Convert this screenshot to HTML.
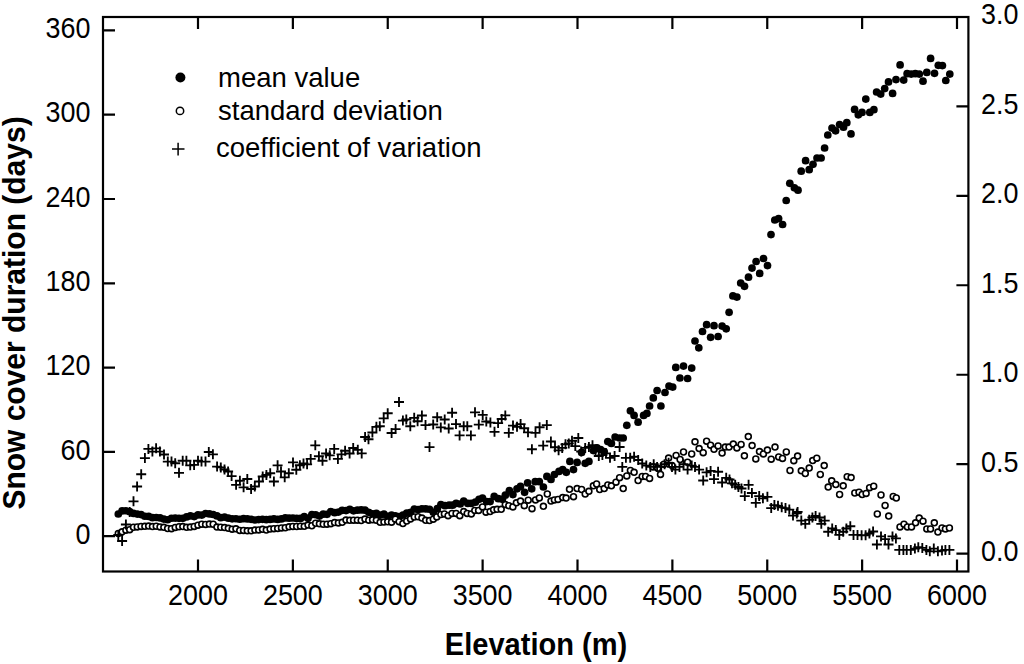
<!DOCTYPE html><html><head><meta charset="utf-8"><title>Snow cover duration vs elevation</title><style>html,body{margin:0;padding:0;background:#fff;}svg{display:block;}text{font-family:"Liberation Sans",sans-serif;fill:#000;}</style></head><body>
<svg width="1024" height="664" viewBox="0 0 1024 664">
<rect width="1024" height="664" fill="#fff"/>
<g fill="#000">
<circle cx="118.3" cy="513.993" r="3.85"/>
<circle cx="122.095" cy="510.918" r="3.85"/>
<circle cx="125.89" cy="510.769" r="3.85"/>
<circle cx="129.685" cy="511.658" r="3.85"/>
<circle cx="133.48" cy="513.427" r="3.85"/>
<circle cx="137.275" cy="514.104" r="3.85"/>
<circle cx="141.07" cy="514.56" r="3.85"/>
<circle cx="144.865" cy="516.228" r="3.85"/>
<circle cx="148.66" cy="516.425" r="3.85"/>
<circle cx="152.455" cy="517.701" r="3.85"/>
<circle cx="156.25" cy="517.481" r="3.85"/>
<circle cx="160.045" cy="517.901" r="3.85"/>
<circle cx="163.84" cy="519.109" r="3.85"/>
<circle cx="167.635" cy="519.761" r="3.85"/>
<circle cx="171.43" cy="518.259" r="3.85"/>
<circle cx="175.225" cy="518.041" r="3.85"/>
<circle cx="179.02" cy="518.31" r="3.85"/>
<circle cx="182.815" cy="518.359" r="3.85"/>
<circle cx="186.61" cy="516.933" r="3.85"/>
<circle cx="190.405" cy="515.83" r="3.85"/>
<circle cx="194.2" cy="516.606" r="3.85"/>
<circle cx="197.995" cy="514.917" r="3.85"/>
<circle cx="201.79" cy="515.1" r="3.85"/>
<circle cx="205.585" cy="513.52" r="3.85"/>
<circle cx="209.38" cy="513.889" r="3.85"/>
<circle cx="213.175" cy="514.497" r="3.85"/>
<circle cx="216.97" cy="515.902" r="3.85"/>
<circle cx="220.765" cy="517.631" r="3.85"/>
<circle cx="224.56" cy="517.061" r="3.85"/>
<circle cx="228.355" cy="518.199" r="3.85"/>
<circle cx="232.15" cy="518.841" r="3.85"/>
<circle cx="235.945" cy="518.745" r="3.85"/>
<circle cx="239.74" cy="519.247" r="3.85"/>
<circle cx="243.535" cy="518.693" r="3.85"/>
<circle cx="247.33" cy="518.91" r="3.85"/>
<circle cx="251.125" cy="519.32" r="3.85"/>
<circle cx="254.92" cy="520.024" r="3.85"/>
<circle cx="258.715" cy="519.564" r="3.85"/>
<circle cx="262.51" cy="519.327" r="3.85"/>
<circle cx="266.305" cy="519.706" r="3.85"/>
<circle cx="270.1" cy="519.438" r="3.85"/>
<circle cx="273.895" cy="518.943" r="3.85"/>
<circle cx="277.69" cy="519.423" r="3.85"/>
<circle cx="281.485" cy="518.96" r="3.85"/>
<circle cx="285.28" cy="517.921" r="3.85"/>
<circle cx="289.075" cy="518.191" r="3.85"/>
<circle cx="292.87" cy="518.001" r="3.85"/>
<circle cx="296.665" cy="518.451" r="3.85"/>
<circle cx="300.46" cy="518.417" r="3.85"/>
<circle cx="304.255" cy="516.617" r="3.85"/>
<circle cx="308.05" cy="518.358" r="3.85"/>
<circle cx="311.845" cy="514.548" r="3.85"/>
<circle cx="315.64" cy="514.728" r="3.85"/>
<circle cx="319.435" cy="516.053" r="3.85"/>
<circle cx="323.23" cy="514.168" r="3.85"/>
<circle cx="327.025" cy="514.346" r="3.85"/>
<circle cx="330.82" cy="511.478" r="3.85"/>
<circle cx="334.615" cy="512.668" r="3.85"/>
<circle cx="338.41" cy="512.047" r="3.85"/>
<circle cx="342.205" cy="510.361" r="3.85"/>
<circle cx="346" cy="510.56" r="3.85"/>
<circle cx="349.795" cy="509.283" r="3.85"/>
<circle cx="353.59" cy="510.845" r="3.85"/>
<circle cx="357.385" cy="510.2" r="3.85"/>
<circle cx="361.18" cy="509.925" r="3.85"/>
<circle cx="364.975" cy="510.222" r="3.85"/>
<circle cx="368.77" cy="512.297" r="3.85"/>
<circle cx="372.565" cy="513.791" r="3.85"/>
<circle cx="376.36" cy="513.319" r="3.85"/>
<circle cx="380.155" cy="515.099" r="3.85"/>
<circle cx="383.95" cy="514.225" r="3.85"/>
<circle cx="387.745" cy="516.247" r="3.85"/>
<circle cx="391.54" cy="514.984" r="3.85"/>
<circle cx="395.335" cy="515.788" r="3.85"/>
<circle cx="399.13" cy="516.713" r="3.85"/>
<circle cx="402.925" cy="515.08" r="3.85"/>
<circle cx="406.72" cy="513.167" r="3.85"/>
<circle cx="410.515" cy="512.321" r="3.85"/>
<circle cx="414.31" cy="508.99" r="3.85"/>
<circle cx="418.105" cy="509.504" r="3.85"/>
<circle cx="421.9" cy="508.821" r="3.85"/>
<circle cx="425.695" cy="508.964" r="3.85"/>
<circle cx="429.49" cy="509.265" r="3.85"/>
<circle cx="433.285" cy="512.309" r="3.85"/>
<circle cx="437.3" cy="508.7" r="3.85"/>
<circle cx="440.9" cy="504.6" r="3.85"/>
<circle cx="445" cy="505.7" r="3.85"/>
<circle cx="449.1" cy="505.2" r="3.85"/>
<circle cx="452.6" cy="505.2" r="3.85"/>
<circle cx="456.1" cy="503.4" r="3.85"/>
<circle cx="460.2" cy="504" r="3.85"/>
<circle cx="463.7" cy="501.1" r="3.85"/>
<circle cx="467.8" cy="503.4" r="3.85"/>
<circle cx="471.3" cy="503.4" r="3.85"/>
<circle cx="475.4" cy="502.2" r="3.85"/>
<circle cx="479" cy="499.3" r="3.85"/>
<circle cx="482.5" cy="498.1" r="3.85"/>
<circle cx="486.6" cy="501.6" r="3.85"/>
<circle cx="490.1" cy="501.6" r="3.85"/>
<circle cx="494.2" cy="496.4" r="3.85"/>
<circle cx="498.3" cy="498.7" r="3.85"/>
<circle cx="502.4" cy="499.3" r="3.85"/>
<circle cx="505.3" cy="495.2" r="3.85"/>
<circle cx="509.4" cy="490.5" r="3.85"/>
<circle cx="512.9" cy="494.6" r="3.85"/>
<circle cx="517" cy="488.8" r="3.85"/>
<circle cx="520.5" cy="486.4" r="3.85"/>
<circle cx="524.6" cy="492.3" r="3.85"/>
<circle cx="527.6" cy="482.9" r="3.85"/>
<circle cx="531.7" cy="488.8" r="3.85"/>
<circle cx="535.2" cy="481.7" r="3.85"/>
<circle cx="539.3" cy="481.7" r="3.85"/>
<circle cx="543.4" cy="487" r="3.85"/>
<circle cx="546.9" cy="476.4" r="3.85"/>
<circle cx="551" cy="479.4" r="3.85"/>
<circle cx="554.4" cy="474.5" r="3.85"/>
<circle cx="559" cy="471.4" r="3.85"/>
<circle cx="562.7" cy="469.6" r="3.85"/>
<circle cx="566.3" cy="472.3" r="3.85"/>
<circle cx="569.9" cy="461.4" r="3.85"/>
<circle cx="573.5" cy="469.6" r="3.85"/>
<circle cx="577.1" cy="462.4" r="3.85"/>
<circle cx="581.6" cy="452.4" r="3.85"/>
<circle cx="585.2" cy="463.3" r="3.85"/>
<circle cx="588.9" cy="461.4" r="3.85"/>
<circle cx="593.4" cy="450.6" r="3.85"/>
<circle cx="597" cy="447.9" r="3.85"/>
<circle cx="600.6" cy="449.7" r="3.85"/>
<circle cx="604.2" cy="451.5" r="3.85"/>
<circle cx="607.8" cy="441.6" r="3.85"/>
<circle cx="611.4" cy="443.4" r="3.85"/>
<circle cx="615.1" cy="437" r="3.85"/>
<circle cx="619.6" cy="438" r="3.85"/>
<circle cx="623.2" cy="438" r="3.85"/>
<circle cx="626.8" cy="425.3" r="3.85"/>
<circle cx="630.4" cy="410.8" r="3.85"/>
<circle cx="634.1" cy="415.4" r="3.85"/>
<circle cx="638.1" cy="422.2" r="3.85"/>
<circle cx="643.6" cy="415.4" r="3.85"/>
<circle cx="646.9" cy="413.4" r="3.85"/>
<circle cx="649.6" cy="406" r="3.85"/>
<circle cx="653.3" cy="397.9" r="3.85"/>
<circle cx="657.1" cy="390.5" r="3.85"/>
<circle cx="660.9" cy="406" r="3.85"/>
<circle cx="665" cy="392.5" r="3.85"/>
<circle cx="669" cy="386.1" r="3.85"/>
<circle cx="672.7" cy="387.1" r="3.85"/>
<circle cx="675.8" cy="367.4" r="3.85"/>
<circle cx="679.9" cy="378" r="3.85"/>
<circle cx="683.5" cy="366.1" r="3.85"/>
<circle cx="687.6" cy="378.5" r="3.85"/>
<circle cx="691.7" cy="368.1" r="3.85"/>
<circle cx="695" cy="341" r="3.85"/>
<circle cx="698.8" cy="347.8" r="3.85"/>
<circle cx="702.5" cy="331.5" r="3.85"/>
<circle cx="706.6" cy="324.7" r="3.85"/>
<circle cx="710.6" cy="337.3" r="3.85"/>
<circle cx="714" cy="325.7" r="3.85"/>
<circle cx="718.1" cy="336.5" r="3.85"/>
<circle cx="722.1" cy="326.1" r="3.85"/>
<circle cx="726.2" cy="328.8" r="3.85"/>
<circle cx="729.1" cy="312.3" r="3.85"/>
<circle cx="732.9" cy="295.9" r="3.85"/>
<circle cx="736.9" cy="297.1" r="3.85"/>
<circle cx="740.7" cy="283" r="3.85"/>
<circle cx="744.5" cy="286.3" r="3.85"/>
<circle cx="748.5" cy="277.2" r="3.85"/>
<circle cx="752" cy="268.1" r="3.85"/>
<circle cx="756.1" cy="261.5" r="3.85"/>
<circle cx="759.7" cy="273.4" r="3.85"/>
<circle cx="763.5" cy="258.5" r="3.85"/>
<circle cx="767.5" cy="265.6" r="3.85"/>
<circle cx="771" cy="234.6" r="3.85"/>
<circle cx="774.8" cy="220" r="3.85"/>
<circle cx="778.6" cy="218.6" r="3.85"/>
<circle cx="782.6" cy="224.5" r="3.85"/>
<circle cx="786.2" cy="200.5" r="3.85"/>
<circle cx="789.8" cy="183.3" r="3.85"/>
<circle cx="794.4" cy="187.8" r="3.85"/>
<circle cx="798" cy="190.2" r="3.85"/>
<circle cx="801.2" cy="171.2" r="3.85"/>
<circle cx="805.6" cy="160.7" r="3.85"/>
<circle cx="809.2" cy="169.7" r="3.85"/>
<circle cx="813" cy="164.3" r="3.85"/>
<circle cx="817" cy="158" r="3.85"/>
<circle cx="821.1" cy="158" r="3.85"/>
<circle cx="824.6" cy="148" r="3.85"/>
<circle cx="827.8" cy="135" r="3.85"/>
<circle cx="832" cy="128.1" r="3.85"/>
<circle cx="835.6" cy="130.8" r="3.85"/>
<circle cx="839.6" cy="124.5" r="3.85"/>
<circle cx="843.5" cy="127.2" r="3.85"/>
<circle cx="846.8" cy="122.7" r="3.85"/>
<circle cx="851" cy="133.9" r="3.85"/>
<circle cx="854.6" cy="109.4" r="3.85"/>
<circle cx="858.3" cy="114.8" r="3.85"/>
<circle cx="862" cy="112.4" r="3.85"/>
<circle cx="865.8" cy="99.1" r="3.85"/>
<circle cx="869.8" cy="112.4" r="3.85"/>
<circle cx="873.9" cy="109.7" r="3.85"/>
<circle cx="876.6" cy="92" r="3.85"/>
<circle cx="880.7" cy="94.1" r="3.85"/>
<circle cx="884.7" cy="88.6" r="3.85"/>
<circle cx="888.5" cy="81.9" r="3.85"/>
<circle cx="892.6" cy="93.4" r="3.85"/>
<circle cx="896" cy="79.6" r="3.85"/>
<circle cx="900.1" cy="64.9" r="3.85"/>
<circle cx="903.7" cy="80.1" r="3.85"/>
<circle cx="907.1" cy="73.7" r="3.85"/>
<circle cx="911.2" cy="74.1" r="3.85"/>
<circle cx="915.3" cy="73.7" r="3.85"/>
<circle cx="919.3" cy="74.1" r="3.85"/>
<circle cx="923" cy="81.2" r="3.85"/>
<circle cx="926.8" cy="72.4" r="3.85"/>
<circle cx="930.6" cy="58.4" r="3.85"/>
<circle cx="934.5" cy="73.3" r="3.85"/>
<circle cx="938.3" cy="65.3" r="3.85"/>
<circle cx="942.4" cy="65.6" r="3.85"/>
<circle cx="945.8" cy="80.5" r="3.85"/>
<circle cx="949.8" cy="74.1" r="3.85"/>
</g>
<g fill="#fff" stroke="#000" stroke-width="1.6">
<circle cx="118.3" cy="533.392" r="2.95"/>
<circle cx="122.095" cy="531.796" r="2.95"/>
<circle cx="125.89" cy="530.147" r="2.95"/>
<circle cx="129.685" cy="529.658" r="2.95"/>
<circle cx="133.48" cy="527.259" r="2.95"/>
<circle cx="137.275" cy="526.958" r="2.95"/>
<circle cx="141.07" cy="526.415" r="2.95"/>
<circle cx="144.865" cy="526.343" r="2.95"/>
<circle cx="148.66" cy="526.069" r="2.95"/>
<circle cx="152.455" cy="526.567" r="2.95"/>
<circle cx="156.25" cy="526.245" r="2.95"/>
<circle cx="160.045" cy="526.947" r="2.95"/>
<circle cx="163.84" cy="527.368" r="2.95"/>
<circle cx="167.635" cy="528.523" r="2.95"/>
<circle cx="171.43" cy="528.686" r="2.95"/>
<circle cx="175.225" cy="527.441" r="2.95"/>
<circle cx="179.02" cy="526.771" r="2.95"/>
<circle cx="182.815" cy="526.545" r="2.95"/>
<circle cx="186.61" cy="527.361" r="2.95"/>
<circle cx="190.405" cy="527.038" r="2.95"/>
<circle cx="194.2" cy="526.457" r="2.95"/>
<circle cx="197.995" cy="525.165" r="2.95"/>
<circle cx="201.79" cy="524.171" r="2.95"/>
<circle cx="205.585" cy="524.409" r="2.95"/>
<circle cx="209.38" cy="524.092" r="2.95"/>
<circle cx="213.175" cy="524.263" r="2.95"/>
<circle cx="216.97" cy="527.123" r="2.95"/>
<circle cx="220.765" cy="527.261" r="2.95"/>
<circle cx="224.56" cy="527.558" r="2.95"/>
<circle cx="228.355" cy="528.326" r="2.95"/>
<circle cx="232.15" cy="529.219" r="2.95"/>
<circle cx="235.945" cy="528.804" r="2.95"/>
<circle cx="239.74" cy="530.387" r="2.95"/>
<circle cx="243.535" cy="530.426" r="2.95"/>
<circle cx="247.33" cy="530.807" r="2.95"/>
<circle cx="251.125" cy="530.855" r="2.95"/>
<circle cx="254.92" cy="530.077" r="2.95"/>
<circle cx="258.715" cy="529.958" r="2.95"/>
<circle cx="262.51" cy="529.356" r="2.95"/>
<circle cx="266.305" cy="530.075" r="2.95"/>
<circle cx="270.1" cy="529.03" r="2.95"/>
<circle cx="273.895" cy="528.669" r="2.95"/>
<circle cx="277.69" cy="528.451" r="2.95"/>
<circle cx="281.485" cy="527.932" r="2.95"/>
<circle cx="285.28" cy="527.772" r="2.95"/>
<circle cx="289.075" cy="526.868" r="2.95"/>
<circle cx="292.87" cy="526.441" r="2.95"/>
<circle cx="296.665" cy="526.517" r="2.95"/>
<circle cx="300.46" cy="526.21" r="2.95"/>
<circle cx="304.255" cy="526.302" r="2.95"/>
<circle cx="308.05" cy="525.097" r="2.95"/>
<circle cx="311.845" cy="525.772" r="2.95"/>
<circle cx="315.64" cy="523.232" r="2.95"/>
<circle cx="319.435" cy="523.827" r="2.95"/>
<circle cx="323.23" cy="524.261" r="2.95"/>
<circle cx="327.025" cy="524.209" r="2.95"/>
<circle cx="330.82" cy="523.642" r="2.95"/>
<circle cx="334.615" cy="522.528" r="2.95"/>
<circle cx="338.41" cy="522.919" r="2.95"/>
<circle cx="342.205" cy="522.37" r="2.95"/>
<circle cx="346" cy="520.067" r="2.95"/>
<circle cx="349.795" cy="520.357" r="2.95"/>
<circle cx="353.59" cy="520.136" r="2.95"/>
<circle cx="357.385" cy="520.164" r="2.95"/>
<circle cx="361.18" cy="520.485" r="2.95"/>
<circle cx="364.975" cy="519.037" r="2.95"/>
<circle cx="368.77" cy="520.201" r="2.95"/>
<circle cx="372.565" cy="519.837" r="2.95"/>
<circle cx="376.36" cy="520.283" r="2.95"/>
<circle cx="380.155" cy="522.289" r="2.95"/>
<circle cx="383.95" cy="522.108" r="2.95"/>
<circle cx="387.745" cy="521.861" r="2.95"/>
<circle cx="391.54" cy="522.15" r="2.95"/>
<circle cx="395.335" cy="519.193" r="2.95"/>
<circle cx="399.13" cy="521.687" r="2.95"/>
<circle cx="402.925" cy="523.547" r="2.95"/>
<circle cx="406.72" cy="521.063" r="2.95"/>
<circle cx="410.515" cy="518.922" r="2.95"/>
<circle cx="414.31" cy="516.992" r="2.95"/>
<circle cx="418.105" cy="516.763" r="2.95"/>
<circle cx="421.9" cy="518.081" r="2.95"/>
<circle cx="425.695" cy="520.333" r="2.95"/>
<circle cx="429.49" cy="520.557" r="2.95"/>
<circle cx="433.285" cy="519.146" r="2.95"/>
<circle cx="436.8" cy="516.9" r="2.95"/>
<circle cx="440.9" cy="514.5" r="2.95"/>
<circle cx="444.4" cy="513.9" r="2.95"/>
<circle cx="448.1" cy="515.7" r="2.95"/>
<circle cx="452" cy="513.4" r="2.95"/>
<circle cx="456.1" cy="513.4" r="2.95"/>
<circle cx="459.8" cy="515.7" r="2.95"/>
<circle cx="463.7" cy="511.6" r="2.95"/>
<circle cx="467.2" cy="513.4" r="2.95"/>
<circle cx="471.3" cy="513.9" r="2.95"/>
<circle cx="474.8" cy="510.4" r="2.95"/>
<circle cx="478.6" cy="510.4" r="2.95"/>
<circle cx="482.5" cy="506.9" r="2.95"/>
<circle cx="486" cy="512.2" r="2.95"/>
<circle cx="490.1" cy="511.6" r="2.95"/>
<circle cx="493.6" cy="509.8" r="2.95"/>
<circle cx="497.1" cy="509.3" r="2.95"/>
<circle cx="501.2" cy="509.3" r="2.95"/>
<circle cx="505.3" cy="504.6" r="2.95"/>
<circle cx="508.8" cy="505.7" r="2.95"/>
<circle cx="512.9" cy="506.9" r="2.95"/>
<circle cx="516.4" cy="502.8" r="2.95"/>
<circle cx="520.5" cy="501.1" r="2.95"/>
<circle cx="524.3" cy="505.7" r="2.95"/>
<circle cx="528.2" cy="500.2" r="2.95"/>
<circle cx="532" cy="508.7" r="2.95"/>
<circle cx="535.5" cy="499.9" r="2.95"/>
<circle cx="539.3" cy="497.9" r="2.95"/>
<circle cx="543.4" cy="506.3" r="2.95"/>
<circle cx="547.3" cy="494" r="2.95"/>
<circle cx="551" cy="501.1" r="2.95"/>
<circle cx="554.4" cy="499.9" r="2.95"/>
<circle cx="558" cy="499.4" r="2.95"/>
<circle cx="562.7" cy="497.6" r="2.95"/>
<circle cx="566.1" cy="498.1" r="2.95"/>
<circle cx="569.5" cy="489.3" r="2.95"/>
<circle cx="573.5" cy="496.7" r="2.95"/>
<circle cx="577.1" cy="488.6" r="2.95"/>
<circle cx="581.6" cy="489.5" r="2.95"/>
<circle cx="585.2" cy="494" r="2.95"/>
<circle cx="588.9" cy="491.3" r="2.95"/>
<circle cx="593.4" cy="485.8" r="2.95"/>
<circle cx="596.6" cy="484" r="2.95"/>
<circle cx="599.7" cy="489.5" r="2.95"/>
<circle cx="604.2" cy="488.6" r="2.95"/>
<circle cx="607.8" cy="484.9" r="2.95"/>
<circle cx="611.4" cy="485.8" r="2.95"/>
<circle cx="616" cy="482.2" r="2.95"/>
<circle cx="619.6" cy="477.7" r="2.95"/>
<circle cx="623.2" cy="488.6" r="2.95"/>
<circle cx="626.8" cy="475.9" r="2.95"/>
<circle cx="630.4" cy="470.5" r="2.95"/>
<circle cx="634.1" cy="472.3" r="2.95"/>
<circle cx="638.1" cy="480.5" r="2.95"/>
<circle cx="642.2" cy="476.4" r="2.95"/>
<circle cx="645.6" cy="476.4" r="2.95"/>
<circle cx="649.6" cy="478.4" r="2.95"/>
<circle cx="653" cy="466.9" r="2.95"/>
<circle cx="657.8" cy="468.3" r="2.95"/>
<circle cx="660.5" cy="474.4" r="2.95"/>
<circle cx="663.9" cy="464.2" r="2.95"/>
<circle cx="668.6" cy="458.1" r="2.95"/>
<circle cx="672" cy="465.6" r="2.95"/>
<circle cx="676.1" cy="455.4" r="2.95"/>
<circle cx="680.1" cy="459.5" r="2.95"/>
<circle cx="683.5" cy="452" r="2.95"/>
<circle cx="687.6" cy="462.2" r="2.95"/>
<circle cx="691.7" cy="454" r="2.95"/>
<circle cx="695" cy="441.8" r="2.95"/>
<circle cx="699.1" cy="448.6" r="2.95"/>
<circle cx="703.2" cy="452.7" r="2.95"/>
<circle cx="706.6" cy="441.2" r="2.95"/>
<circle cx="710.6" cy="445.2" r="2.95"/>
<circle cx="714" cy="449.3" r="2.95"/>
<circle cx="718.1" cy="445.9" r="2.95"/>
<circle cx="722.1" cy="453.1" r="2.95"/>
<circle cx="725.3" cy="447.1" r="2.95"/>
<circle cx="729" cy="447.1" r="2.95"/>
<circle cx="733.3" cy="444.1" r="2.95"/>
<circle cx="736.9" cy="447.9" r="2.95"/>
<circle cx="741.1" cy="444.4" r="2.95"/>
<circle cx="744.4" cy="455.8" r="2.95"/>
<circle cx="748.3" cy="436.6" r="2.95"/>
<circle cx="752.1" cy="445.6" r="2.95"/>
<circle cx="755.8" cy="458.9" r="2.95"/>
<circle cx="759.5" cy="451.6" r="2.95"/>
<circle cx="763.4" cy="453.9" r="2.95"/>
<circle cx="767.4" cy="450.1" r="2.95"/>
<circle cx="771.2" cy="459.2" r="2.95"/>
<circle cx="775" cy="447.1" r="2.95"/>
<circle cx="778.7" cy="456.9" r="2.95"/>
<circle cx="782.5" cy="458.4" r="2.95"/>
<circle cx="786.3" cy="451.9" r="2.95"/>
<circle cx="790" cy="470.5" r="2.95"/>
<circle cx="793.8" cy="460.7" r="2.95"/>
<circle cx="797.6" cy="456.1" r="2.95"/>
<circle cx="801.3" cy="470.8" r="2.95"/>
<circle cx="805.3" cy="473.5" r="2.95"/>
<circle cx="809.2" cy="468.1" r="2.95"/>
<circle cx="812.7" cy="460.6" r="2.95"/>
<circle cx="816.8" cy="458.2" r="2.95"/>
<circle cx="820.3" cy="474.5" r="2.95"/>
<circle cx="824.2" cy="465.6" r="2.95"/>
<circle cx="828.2" cy="487.1" r="2.95"/>
<circle cx="831.7" cy="480.8" r="2.95"/>
<circle cx="835.8" cy="484.6" r="2.95"/>
<circle cx="839.6" cy="494.5" r="2.95"/>
<circle cx="843.2" cy="485.8" r="2.95"/>
<circle cx="847.2" cy="476.7" r="2.95"/>
<circle cx="851.1" cy="477.6" r="2.95"/>
<circle cx="854.8" cy="493" r="2.95"/>
<circle cx="859" cy="492.2" r="2.95"/>
<circle cx="862.2" cy="494.5" r="2.95"/>
<circle cx="866.1" cy="493.4" r="2.95"/>
<circle cx="869.6" cy="487.7" r="2.95"/>
<circle cx="873.7" cy="486.2" r="2.95"/>
<circle cx="877.3" cy="514" r="2.95"/>
<circle cx="881" cy="495" r="2.95"/>
<circle cx="885.1" cy="505.5" r="2.95"/>
<circle cx="888.7" cy="516.1" r="2.95"/>
<circle cx="893.2" cy="496.4" r="2.95"/>
<circle cx="896.3" cy="498" r="2.95"/>
<circle cx="900" cy="526.9" r="2.95"/>
<circle cx="904" cy="524.2" r="2.95"/>
<circle cx="907.4" cy="526.9" r="2.95"/>
<circle cx="911.5" cy="526.9" r="2.95"/>
<circle cx="915.6" cy="522.8" r="2.95"/>
<circle cx="919.2" cy="518.1" r="2.95"/>
<circle cx="923" cy="521.2" r="2.95"/>
<circle cx="926.8" cy="528.9" r="2.95"/>
<circle cx="930.5" cy="528.9" r="2.95"/>
<circle cx="934.3" cy="522.8" r="2.95"/>
<circle cx="937.9" cy="532.1" r="2.95"/>
<circle cx="942" cy="528" r="2.95"/>
<circle cx="945.4" cy="528.9" r="2.95"/>
<circle cx="949.4" cy="528" r="2.95"/>
</g>
<path fill="none" stroke="#000" stroke-width="1.85" d="M113.3 535h10M118.3 530v10M117.1 541h10M122.1 536v10M120.9 524.5h10M125.9 519.5v10M124.7 512h10M129.7 507v10M128.5 501.3h10M133.5 496.3v10M132.1 486.5h10M137.1 481.5v10M136.2 474.2h10M141.2 469.2v10M139.9 458.1h10M144.9 453.1v10M143.4 448.9h10M148.4 443.9v10M147.4 451.6h10M152.4 446.6v10M151.1 448.3h10M156.1 443.3v10M154.9 451.6h10M159.9 446.6v10M159 454.5h10M164 449.5v10M162.8 461.6h10M167.8 456.6v10M166.5 461.6h10M171.5 456.6v10M170.2 463.2h10M175.2 458.2v10M174 472.8h10M179 467.8v10M177.7 460.7h10M182.7 455.7v10M181.4 460.7h10M186.4 455.7v10M185.2 465.3h10M190.2 460.3v10M189.1 464.9h10M194.1 459.9v10M193 460.7h10M198 455.7v10M196.5 461.6h10M201.5 456.6v10M200.5 461.6h10M205.5 456.6v10M203.8 452h10M208.8 447v10M207.9 454.3h10M212.9 449.3v10M212.1 466.6h10M217.1 461.6v10M215.8 467.4h10M220.8 462.4v10M219.5 469.5h10M224.5 464.5v10M223.1 471.5h10M228.1 466.5v10M226.6 476.1h10M231.6 471.1v10M231.1 484.8h10M236.1 479.8v10M234.9 480.7h10M239.9 475.7v10M238.6 487.3h10M243.6 482.3v10M242.3 479h10M247.3 474v10M246.1 489h10M251.1 484v10M249.8 486.5h10M254.8 481.5v10M254 481.5h10M259 476.5v10M257.7 476.5h10M262.7 471.5v10M261.4 474.9h10M266.4 469.9v10M265.2 473.2h10M270.2 468.2v10M268.9 481.5h10M273.9 476.5v10M272.6 465.3h10M277.6 460.3v10M276 471.5h10M281 466.5v10M279.7 477.3h10M284.7 472.3v10M283.8 473.2h10M288.8 468.2v10M288 462.4h10M293 457.4v10M291.3 469.7h10M296.3 464.7v10M294.9 465.2h10M299.9 460.2v10M298.5 463.4h10M303.5 458.4v10M302.1 464.3h10M307.1 459.3v10M305.7 458.9h10M310.7 453.9v10M310.3 445.3h10M315.3 440.3v10M313.9 456.2h10M318.9 451.2v10M317.5 460.7h10M322.5 455.7v10M321.1 453.5h10M326.1 448.5v10M324.7 455.3h10M329.7 450.3v10M329.2 448.9h10M334.2 443.9v10M332.9 458.9h10M337.9 453.9v10M336.5 454.4h10M341.5 449.4v10M340.1 450.7h10M345.1 445.7v10M344.6 453.5h10M349.6 448.5v10M348.2 448h10M353.2 443v10M352.8 449.8h10M357.8 444.8v10M356.7 453.4h10M361.7 448.4v10M360.1 437h10M365.1 432v10M363.5 439.2h10M368.5 434.2v10M367.4 432.5h10M372.4 427.5v10M371.4 426.8h10M376.4 421.8v10M374.8 426.2h10M379.8 421.2v10M378.7 418.3h10M383.7 413.3v10M382.7 413.2h10M387.7 408.2v10M386.6 433h10M391.6 428v10M390.6 429.1h10M395.6 424.1v10M394 402h10M399 397v10M397.9 420.6h10M402.9 415.6v10M401.3 419.5h10M406.3 414.5v10M405.3 426.2h10M410.3 421.2v10M409.2 417.8h10M414.2 412.8v10M412.6 421.2h10M417.6 416.2v10M416.9 415.5h10M421.9 410.5v10M420.5 425.1h10M425.5 420.1v10M424.5 447.1h10M429.5 442.1v10M428.2 424.5h10M433.2 419.5v10M432.2 417.2h10M437.2 412.2v10M435.8 427.4h10M440.8 422.4v10M439.7 419.5h10M444.7 414.5v10M443.7 428.5h10M448.7 423.5v10M447.1 412.7h10M452.1 407.7v10M451 424.1h10M456 419.1v10M454.6 435.4h10M459.6 430.4v10M458.7 426.2h10M463.7 421.2v10M462.3 426.2h10M467.3 421.2v10M465.9 435.4h10M470.9 430.4v10M470 412.3h10M475 407.3v10M473.8 424.6h10M478.8 419.6v10M477.7 414.9h10M482.7 409.9v10M481.3 421.5h10M486.3 416.5v10M485.4 422.6h10M490.4 417.6v10M489.5 431.8h10M494.5 426.8v10M493.1 423.1h10M498.1 418.1v10M496.7 419h10M501.7 414v10M500.3 415.4h10M505.3 410.4v10M503.8 432.8h10M508.8 427.8v10M508 425.6h10M513 420.6v10M512 426.7h10M517 421.7v10M515.6 424.1h10M520.6 419.1v10M519.2 428.2h10M524.2 423.2v10M523 432.3h10M528 427.3v10M526.9 449.2h10M531.9 444.2v10M530.5 432.8h10M535.5 427.8v10M534.6 427.2h10M539.6 422.2v10M538.2 445.6h10M543.2 440.6v10M541.8 425.1h10M546.8 420.1v10M545.9 441.5h10M550.9 436.5v10M550 447.2h10M555 442.2v10M553.6 450.3h10M558.6 445.3v10M557.2 447.9h10M562.2 442.9v10M560.5 444.3h10M565.5 439.3v10M563.8 443.4h10M568.8 438.4v10M567 440.7h10M572 435.7v10M570.3 446.1h10M575.3 441.1v10M573.3 438h10M578.3 433v10M576.2 451.5h10M581.2 446.5v10M580.2 447.9h10M585.2 442.9v10M583.9 447h10M588.9 442v10M587.5 445.2h10M592.5 440.2v10M590.6 450.6h10M595.6 445.6v10M593.8 456h10M598.8 451v10M597.4 455.1h10M602.4 450.1v10M601 453.3h10M606 448.3v10M605 457.8h10M610 452.8v10M609.6 456h10M614.6 451v10M614.6 447h10M619.6 442v10M617.3 466.9h10M622.3 461.9v10M620.9 457.8h10M625.9 452.8v10M625.2 457.8h10M630.2 452.8v10M629.1 456.7h10M634.1 451.7v10M633.2 460h10M638.2 455v10M637.2 463.5h10M642.2 458.5v10M641.3 465.6h10M646.3 460.6v10M645.3 466.9h10M650.3 461.9v10M648.7 464.2h10M653.7 459.2v10M652.1 466.9h10M657.1 461.9v10M656.2 466.9h10M661.2 461.9v10M659.6 464.2h10M664.6 459.2v10M663.6 462.8h10M668.6 457.8v10M667 466.9h10M672 461.9v10M670.4 469.6h10M675.4 464.6v10M674.5 466.9h10M679.5 461.9v10M678.5 464.2h10M683.5 459.2v10M682.6 469.6h10M687.6 464.6v10M686.7 465.6h10M691.7 460.6v10M690 466.9h10M695 461.9v10M694.1 469.6h10M699.1 464.6v10M698.2 480.5h10M703.2 475.5v10M701.6 472.3h10M706.6 467.3v10M705.6 470.9h10M710.6 465.9v10M709 479.1h10M714 474.1v10M713.1 471.7h10M718.1 466.7v10M717.1 482.5h10M722.1 477.5v10M721.2 477.8h10M726.2 472.8v10M724.5 479.5h10M729.5 474.5v10M727 483.3h10M732 478.3v10M730.2 484.8h10M735.2 479.8v10M733.4 487h10M738.4 482v10M736.5 488.5h10M741.5 483.5v10M739.8 496.1h10M744.8 491.1v10M743.6 484.8h10M748.6 479.8v10M746.9 493h10M751.9 488v10M750.8 502.8h10M755.8 497.8v10M754.2 496.1h10M759.2 491.1v10M757.9 498.3h10M762.9 493.3v10M762.4 496.8h10M767.4 491.8v10M766.2 508.1h10M771.2 503.1v10M769.4 505.1h10M774.4 500.1v10M773 505.8h10M778 500.8v10M776.7 507.3h10M781.7 502.3v10M780.5 508.1h10M785.5 503.1v10M784.3 509.6h10M789.3 504.6v10M788 515.6h10M793 510.6v10M791.8 513.4h10M796.8 508.4v10M792.6 511.9h10M797.6 506.9v10M796.3 520.6h10M801.3 515.6v10M800.3 523.8h10M805.3 518.8v10M804.2 519.8h10M809.2 514.8v10M807.4 517.5h10M812.4 512.5v10M810.6 515.9h10M815.6 510.9v10M814.5 517.5h10M819.5 512.5v10M816.3 523.8h10M821.3 518.8v10M819.7 520.6h10M824.7 515.6v10M823.2 531.7h10M828.2 526.7v10M827.2 528.5h10M832.2 523.5v10M830.8 530.1h10M835.8 525.1v10M834.3 534.9h10M839.3 529.9v10M838.2 531.7h10M843.2 526.7v10M841.4 528.5h10M846.4 523.5v10M845.3 526.2h10M850.3 521.2v10M848.5 534.9h10M853.5 529.9v10M852.5 534.9h10M857.5 529.9v10M856.6 535.2h10M861.6 530.2v10M860.6 535.2h10M865.6 530.2v10M864.4 533.5h10M869.4 528.5v10M868.1 531.5h10M873.1 526.5v10M871.9 544.5h10M876.9 539.5v10M876 536.4h10M881 531.4v10M880.1 539.1h10M885.1 534.1v10M883.5 544.5h10M888.5 539.5v10M887.5 536.4h10M892.5 531.4v10M890.9 538.4h10M895.9 533.4v10M894.3 549.9h10M899.3 544.9v10M898.4 549.9h10M903.4 544.9v10M901.7 549.9h10M906.7 544.9v10M905.8 549.9h10M910.8 544.9v10M909.9 548.6h10M914.9 543.6v10M913.3 547.2h10M918.3 542.2v10M917.3 547.9h10M922.3 542.9v10M921.4 549.9h10M926.4 544.9v10M924.8 551.3h10M929.8 546.3v10M928.8 548.6h10M933.8 543.6v10M932.9 551.3h10M937.9 546.3v10M937 550.6h10M942 545.6v10M940.4 549.9h10M945.4 544.9v10M944.4 549.9h10M949.4 544.9v10"/>
<rect x="103" y="17" width="865.4" height="554.5" fill="none" stroke="#000" stroke-width="2.2"/>
<path fill="none" stroke="#000" stroke-width="2.2" d="M103 536.2h12M103 451.9h12M103 367.6h12M103 283.3h12M103 199h12M103 114.7h12M103 30.4h12M968.4 553.7h-12M968.4 464.22h-12M968.4 374.74h-12M968.4 285.26h-12M968.4 195.78h-12M968.4 106.3h-12M198 571.5v-12M198 17v12M292.875 571.5v-12M292.875 17v12M387.75 571.5v-12M387.75 17v12M482.625 571.5v-12M482.625 17v12M577.5 571.5v-12M577.5 17v12M672.375 571.5v-12M672.375 17v12M767.25 571.5v-12M767.25 17v12M862.125 571.5v-12M862.125 17v12M957 571.5v-12M957 17v12"/>
<text transform="translate(90.5 543.8) scale(0.913 1)" font-size="29.5" text-anchor="end">0</text>
<text transform="translate(90.5 459.5) scale(0.913 1)" font-size="29.5" text-anchor="end">60</text>
<text transform="translate(90.5 375.2) scale(0.913 1)" font-size="29.5" text-anchor="end">120</text>
<text transform="translate(90.5 290.9) scale(0.913 1)" font-size="29.5" text-anchor="end">180</text>
<text transform="translate(90.5 206.6) scale(0.913 1)" font-size="29.5" text-anchor="end">240</text>
<text transform="translate(90.5 122.3) scale(0.913 1)" font-size="29.5" text-anchor="end">300</text>
<text transform="translate(90.5 38) scale(0.913 1)" font-size="29.5" text-anchor="end">360</text>
<text transform="translate(981 561.1) scale(0.913 1)" font-size="29.5">0.0</text>
<text transform="translate(981 471.62) scale(0.913 1)" font-size="29.5">0.5</text>
<text transform="translate(981 382.14) scale(0.913 1)" font-size="29.5">1.0</text>
<text transform="translate(981 292.66) scale(0.913 1)" font-size="29.5">1.5</text>
<text transform="translate(981 203.18) scale(0.913 1)" font-size="29.5">2.0</text>
<text transform="translate(981 113.7) scale(0.913 1)" font-size="29.5">2.5</text>
<text transform="translate(981 24.22) scale(0.913 1)" font-size="29.5">3.0</text>
<text transform="translate(198 605) scale(0.913 1)" font-size="29.5" text-anchor="middle">2000</text>
<text transform="translate(292.875 605) scale(0.913 1)" font-size="29.5" text-anchor="middle">2500</text>
<text transform="translate(387.75 605) scale(0.913 1)" font-size="29.5" text-anchor="middle">3000</text>
<text transform="translate(482.625 605) scale(0.913 1)" font-size="29.5" text-anchor="middle">3500</text>
<text transform="translate(577.5 605) scale(0.913 1)" font-size="29.5" text-anchor="middle">4000</text>
<text transform="translate(672.375 605) scale(0.913 1)" font-size="29.5" text-anchor="middle">4500</text>
<text transform="translate(767.25 605) scale(0.913 1)" font-size="29.5" text-anchor="middle">5000</text>
<text transform="translate(862.125 605) scale(0.913 1)" font-size="29.5" text-anchor="middle">5500</text>
<text transform="translate(957 605) scale(0.913 1)" font-size="29.5" text-anchor="middle">6000</text>
<text transform="translate(24.8 313) rotate(-90) scale(1 1.035)" font-size="30" font-weight="bold" text-anchor="middle">Snow cover duration (days)</text>
<text transform="translate(536 654.7) scale(0.985 1.04)" font-size="29.5" font-weight="bold" text-anchor="middle">Elevation (m)</text>
<circle cx="180.4" cy="77.5" r="5" fill="#000"/>
<circle cx="180" cy="110.9" r="3.7" fill="none" stroke="#000" stroke-width="1.5"/>
<path d="M172 149h12.5M178.1 142.8v12.8" stroke="#000" stroke-width="1.5" fill="none"/>
<text transform="translate(218 87) scale(1 1)" font-size="27.5">mean value</text>
<text transform="translate(218 120.2) scale(1 1)" font-size="27.5">standard deviation</text>
<text transform="translate(216 157.1) scale(1 1)" font-size="27.5">coefficient of variation</text>
</svg></body></html>
